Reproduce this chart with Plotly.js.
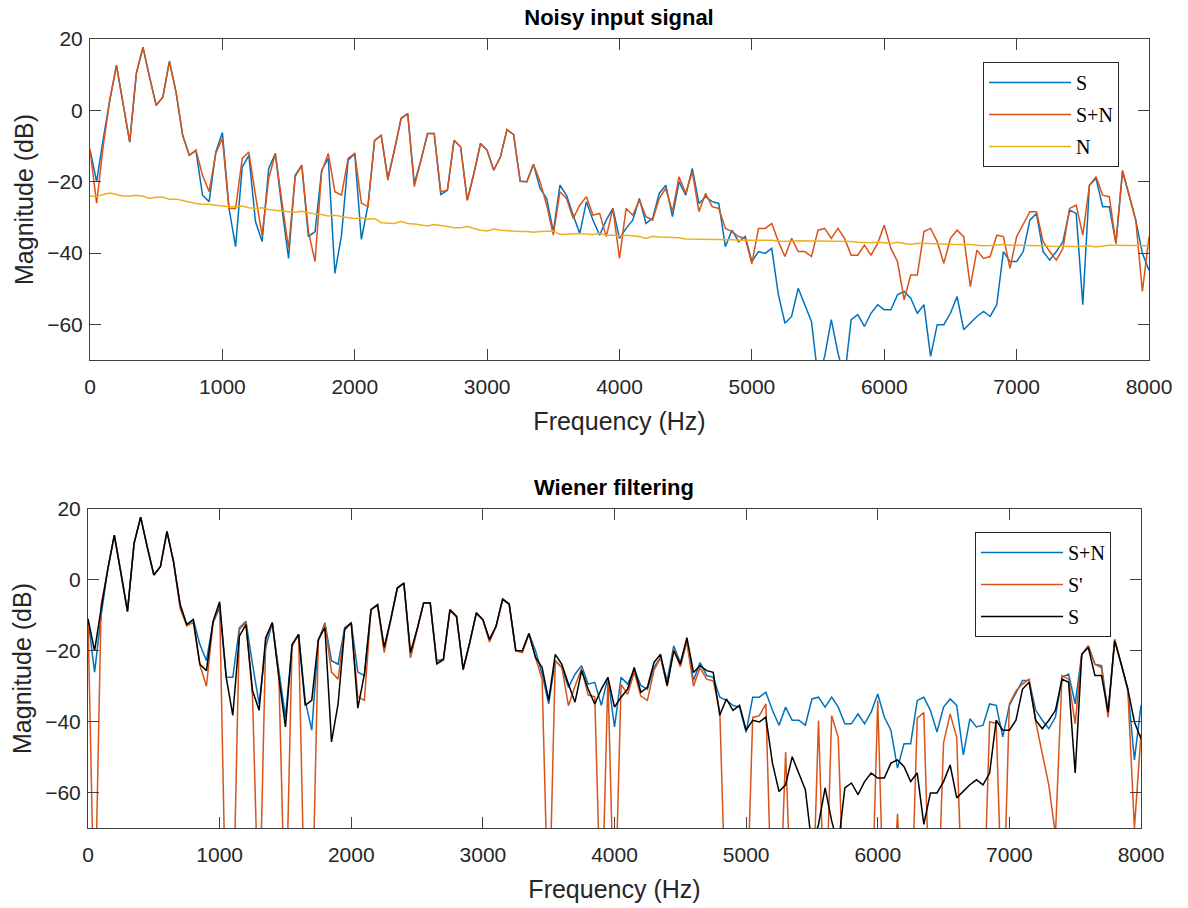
<!DOCTYPE html>
<html>
<head>
<meta charset="utf-8">
<script src="https://cdn.plot.ly/plotly-3.0.1.min.js"></script>
<style>
  html, body { margin: 0; padding: 0; background: #fff; }
  #chart { width: 1188px; height: 908px; }
</style>
</head>
<body>
<div id="chart"></div>
<script>
// Frequency bin spacing (Hz) of the spectra: 161 bins from 0 to 8000 Hz
const BIN_HZ = 50;

// Clean speech spectrum S (dB)
const S = [
  -11, -20, -8, 3, 12.6, 2.3, -8.9, 10.3, 17.7, 9.3,
  1.4, 3.7, 13.7, 5.1, -7, -12.6, -11.2, -23.8, -25.6, -11.7,
  -6.2, -27.5, -38.2, -15.9, -12.6, -31.2, -36.8, -16.3, -12.1, -27.5,
  -41.5, -18.2, -15.4, -35.4, -34, -16.8, -13.5, -45.7, -35, -14,
  -12.1, -36.2, -26.6, -8.4, -7, -19, -11.2, -2.3, -0.9, -20.5,
  -14, -6.5, -6.5, -23.6, -22.4, -8.4, -10.3, -25.2, -17.7, -9.3,
  -11.2, -16.8, -13.1, -5.4, -6.8, -19.9, -20, -15.1, -21.9, -24.7,
  -34, -21, -23.8, -29.4, -34.5, -25.6, -30.8, -35, -30.8, -27.5,
  -35.9, -33.1, -30.8, -24.7, -31.7, -30.3, -23.3, -21, -29.8, -20,
  -23.8, -16.3, -26.1, -24.2, -25.6, -26.1, -38.2, -33.6, -36.8, -35.4,
  -42.4, -39.6, -40.1, -38.7, -51.7, -59.7, -57.8, -49.9, -54.5, -59.2,
  -75, -69, -58.7, -68, -75, -58.7, -57.3, -60.6, -56.9, -54.5,
  -55.9, -55.9, -51.7, -50.8, -52.7, -56.9, -54.5, -69, -60.1, -60.1,
  -56.9, -52.2, -61.5, -59.7, -57.8, -56.4, -57.8, -54.5, -39.6, -42.4,
  -42.4, -39.6, -30.8, -28.9, -39.6, -42, -39.6, -36.8, -28, -28.9,
  -54.5, -21, -19.1, -27, -27, -37.3, -17.2, -23.8, -30.8, -40.1,
  -44.8
];

// Noisy spectrum S+N (dB)
const SN = [
  -11, -26, -10, 3, 12.6, 2.3, -8.9, 10.3, 17.7, 9.3,
  1.4, 3.7, 13.7, 5.1, -7, -12.6, -11.2, -18.2, -22.8, -12.1,
  -7.9, -27.5, -27.5, -13.5, -11.7, -23.8, -35, -19.1, -12.1, -25.6,
  -38.7, -18.6, -15.4, -34, -42.4, -17.2, -12.1, -22.8, -23.8, -13.5,
  -12.1, -26, -27, -8.4, -7, -19.6, -11.2, -2.3, -0.9, -21.4,
  -14, -6.5, -6.5, -22.8, -22.4, -8.4, -10.3, -25.2, -17.7, -9.3,
  -11.2, -16.8, -13.1, -5.4, -6.8, -19.9, -20, -15.1, -20, -26.6,
  -35, -22.8, -24.7, -30.3, -26.6, -24.2, -29.4, -28.9, -35.4, -27.5,
  -41.5, -27.5, -29.4, -25.2, -29.8, -30.8, -24.7, -21.9, -28.4, -18.6,
  -23.3, -17.2, -28.4, -23.3, -27, -27.5, -33.1, -34, -35.4, -35.9,
  -43, -33.1, -33.1, -31.7, -36.8, -41, -35.9, -39.6, -39.6, -41,
  -33.6, -33.1, -35.9, -33.1, -35.9, -40.6, -40.6, -37.8, -40.6, -37.3,
  -32.2, -38.7, -42.4, -53.1, -46.2, -46.2, -34, -33.1, -36.8, -42.9,
  -35.9, -33.6, -35.4, -49.4, -39.2, -41.5, -41, -35, -35.4, -44.3,
  -35.4, -31.7, -28.4, -28.4, -36.8, -39.6, -42, -38.7, -27.5, -26.6,
  -35, -21, -18.6, -23.8, -24.2, -37.3, -16.8, -23.8, -30.8, -50.8,
  -35.4
];

// Noise spectrum N (dB)
const N = [
  -24.0, -24.2, -23.6, -23.2, -23.6, -24.0, -24.0, -23.8, -24.1, -24.7,
  -24.4, -24.4, -24.9, -24.9, -25.3, -25.8, -26.1, -26.3, -26.3, -26.6,
  -26.9, -27.0, -27.0, -26.8, -27.3, -27.5, -27.3, -27.8, -28.0, -28.3,
  -28.4, -28.6, -28.3, -28.7, -29.1, -29.2, -29.6, -29.4, -29.8, -30.1,
  -30.3, -30.1, -30.5, -30.3, -31.5, -31.7, -31.7, -31.2, -31.7, -31.9,
  -32.2, -32.4, -32.0, -32.2, -32.6, -32.9, -32.9, -32.6, -33.1, -33.6,
  -33.8, -33.3, -33.6, -33.8, -34.0, -34.0, -34.0, -34.2, -34.0, -34.0,
  -33.8, -34.8, -34.7, -34.4, -34.5, -34.7, -34.8, -34.5, -35.0, -35.0,
  -35.2, -35.0, -35.2, -35.4, -35.9, -35.3, -35.5, -35.6, -35.7, -35.7,
  -36.1, -36.1, -36.2, -36.2, -36.2, -36.1, -36.2, -36.3, -36.4, -36.4,
  -36.6, -36.6, -36.6, -36.4, -36.7, -36.8, -36.7, -36.6, -36.6, -36.6,
  -36.6, -36.6, -36.6, -36.7, -36.8, -36.8, -37.0, -37.1, -37.1, -37.0,
  -37.1, -37.3, -37.0, -37.2, -37.6, -37.3, -37.3, -37.3, -37.5, -37.5,
  -37.6, -37.6, -37.5, -37.6, -37.8, -38.0, -37.9, -37.8, -37.6, -37.8,
  -37.8, -37.8, -37.9, -38.0, -38.0, -38.1, -38.2, -38.1, -38.2, -38.2,
  -38.0, -38.0, -38.3, -38.0, -37.8, -37.8, -37.8, -38.0, -38.0, -37.8,
  -38.0
];

// Wiener-filtered spectrum S' (dB); deep nulls fall far below the axis range
const S_EST = [
  -11, -100, -7, 3, 12.6, 2.3, -8.9, 10.3, 17.7, 9.3,
  1.4, 3.7, 13.7, 5.1, -8, -13, -12, -24, -30, -12,
  -7, -100, -100, -14, -12, -33, -100, -17, -12, -27,
  -100, -18.6, -15.4, -100, -100, -17, -12.5, -26, -28, -14,
  -12.1, -33, -34, -8.4, -7.2, -20.5, -11.4, -2.3, -0.9, -22,
  -14.2, -6.5, -6.6, -23.8, -22.6, -8.6, -10.5, -25.5, -17.8, -9.5,
  -11.4, -17.5, -13.3, -5.5, -7, -20, -20.5, -15.3, -22, -28,
  -100, -22.8, -24.7, -35.5, -30, -25, -32.5, -33, -100, -27.5,
  -100, -29.5, -32.3, -26, -32.8, -34, -25.5, -22, -30, -19.5,
  -24.5, -17.5, -30, -24.8, -28, -28.5, -37, -100, -100, -100,
  -100, -38.8, -38.3, -35, -100, -100, -48.6, -100, -100, -100,
  -100, -39.7, -100, -38.3, -44.4, -100, -100, -100, -100, -100,
  -34, -100, -100, -66, -100, -100, -39, -37.4, -100, -100,
  -46, -37.8, -44.4, -100, -100, -100, -100, -40, -40.5, -100,
  -35, -31.3, -29.4, -28, -40, -49, -58, -72, -27, -28,
  -40.6, -21, -18.7, -23.8, -24.8, -38.8, -16.8, -23.8, -31.3, -70,
  -43.5
];

const FREQ = S.map((_, i) => i * BIN_HZ);

const X_TICKS = [0, 1000, 2000, 3000, 4000, 5000, 6000, 7000, 8000];
const Y_TICKS = [-60, -40, -20, 0, 20];

const C_BLUE = '#0072BD', C_ORANGE = '#D95319', C_YELLOW = '#EDB120', C_BLACK = '#000000';
const LW = 1.5;

function line(y, name, color, xa, ya, leg, grp) {
  return { x: FREQ, y: y, name: name, type: 'scatter', mode: 'lines',
    line: { color: color, width: LW }, xaxis: xa, yaxis: ya,
    legend: leg, legendgroup: grp, hoverinfo: 'x+y+name' };
}

const traces = [
  line(S,  'S',   C_BLUE,   'x',  'y',  'legend',  'g1'),
  line(SN, 'S+N', C_ORANGE, 'x',  'y',  'legend',  'g2'),
  line(N,  'N',   C_YELLOW, 'x',  'y',  'legend',  'g3'),
  line(SN, 'S+N', C_BLUE,   'x2', 'y2', 'legend2', 'h1'),
  line(S_EST, "S'", C_ORANGE, 'x2', 'y2', 'legend2', 'h2'),
  line(S,  'S',   C_BLACK,  'x2', 'y2', 'legend2', 'h3')
];

const tickFont = { family: 'Liberation Sans, Arial, sans-serif', size: 21, color: '#262626' };
const titleFont = { family: 'Liberation Sans, Arial, sans-serif', size: 25, color: '#262626' };

function xAxis(domain, anchor) {
  return { domain: domain, anchor: anchor, range: [0, 8000], tickvals: X_TICKS,
    ticks: 'inside', ticklen: 11, tickwidth: 1, tickcolor: '#404040',
    showline: true, linecolor: '#404040', linewidth: 1, mirror: 'ticks',
    showgrid: false, zeroline: false, tickfont: tickFont, ticklabelstandoff: 8,
    title: { text: 'Frequency (Hz)', font: titleFont, standoff: 15 } };
}
function yAxis(domain, anchor) {
  return { domain: domain, anchor: anchor, range: [-70, 20], tickvals: Y_TICKS,
    ticks: 'inside', ticklen: 11, tickwidth: 1, tickcolor: '#404040',
    showline: true, linecolor: '#404040', linewidth: 1, mirror: 'ticks',
    showgrid: false, zeroline: false, tickfont: tickFont, ticklabelstandoff: 2,
    title: { text: 'Magnitude (dB)', font: titleFont, standoff: 6 } };
}

const W = 1188, H = 908;
const legendBase = {
  xanchor: 'left', yanchor: 'top', bgcolor: '#ffffff',
  bordercolor: '#262626', borderwidth: 1,
  font: { family: 'Liberation Serif, Times New Roman, serif', size: 20, color: '#000' },
  itemwidth: 82, traceorder: 'grouped', tracegroupgap: 3,
  entrywidth: 140, entrywidthmode: 'pixels'
};

const layout = {
  width: W, height: H,
  margin: { l: 0, r: 0, t: 0, b: 0 },
  paper_bgcolor: '#ffffff', plot_bgcolor: '#ffffff',
  showlegend: true,
  title: { text: '<b>Noisy input signal</b>', x: 619 / W, xref: 'paper', xanchor: 'center',
    y: 1 - 17 / H, yref: 'container', yanchor: 'middle',
    font: { family: 'Liberation Sans, Arial, sans-serif', size: 22, color: '#000' } },
  xaxis: xAxis([90 / W, 1149 / W], 'y'),
  yaxis: yAxis([1 - 360 / H, 1 - 39 / H], 'x'),
  xaxis2: xAxis([88 / W, 1141 / W], 'y2'),
  yaxis2: yAxis([1 - 828 / H, 1 - 509 / H], 'x2'),
  legend: Object.assign({}, legendBase, { x: 983 / W, y: 1 - 62 / H }),
  legend2: Object.assign({}, legendBase, { x: 975 / W, y: 1 - 532 / H }),
  annotations: [
    { text: '<b>Wiener filtering</b>', xref: 'paper', yref: 'paper', x: 614 / W, y: 1 - 488 / H,
      xanchor: 'center', yanchor: 'middle', showarrow: false,
      font: { family: 'Liberation Sans, Arial, sans-serif', size: 22, color: '#000' } }
  ]
};

Plotly.newPlot('chart', traces, layout, { displayModeBar: false, staticPlot: true });
</script>
</body>
</html>
